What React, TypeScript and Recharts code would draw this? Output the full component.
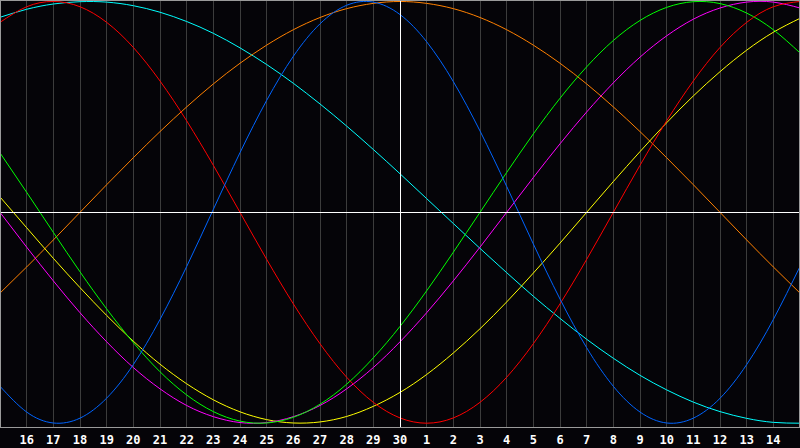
import { LineChart, Line, XAxis, YAxis, CartesianGrid, ReferenceLine } from "recharts";

// day labels: 15th of last month .. 15th of this month, today = 30
const dayLabels = [
  "15", "16", "17", "18", "19", "20", "21", "22", "23", "24", "25", "26", "27", "28", "29", "30",
  "1", "2", "3", "4", "5", "6", "7", "8", "9", "10", "11", "12", "13", "14", "15",
];
const todayIndex = 15;

// values in %, one per day
const physical = [-82.5, -94.7, -99.9, -97.6, -88.1, -72.2, -50.8, -25.7, 1.4, 28.3, 53.1, 74.0, 89.4, 98.2, 99.7, 93.8, 80.9, 62.0, 38.6, 12.3, -15.0, -41.1, -64.2, -82.5, -94.7, -99.9, -97.6, -88.2, -72.2, -50.8, -25.7];
const emotional = [90.1, 97.5, 100, 97.5, 90.1, 78.2, 62.3, 43.4, 22.3, 0, -22.3, -43.4, -62.3, -78.2, -90.1, -97.5, -100, -97.5, -90.1, -78.2, -62.3, -43.4, -22.3, 0, 22.3, 43.4, 62.3, 78.2, 90.1, 97.5, 100];
const intellectual = [28.2, 9.5, -9.5, -28.2, -45.8, -61.8, -75.6, -86.6, -94.5, -99.0, -99.9, -97.2, -91.0, -81.5, -69.0, -54.1, -37.2, -18.9, 0, 18.9, 37.2, 54.1, 69.0, 81.5, 91.0, 97.2, 99.9, 99.0, 94.5, 86.6, 75.6];
const intuitive = [0, -16.5, -32.5, -47.6, -61.4, -73.6, -83.7, -91.6, -96.9, -99.7, -99.7, -96.9, -91.6, -83.7, -73.6, -61.4, -47.6, -32.5, -16.5, 0, 16.5, 32.5, 47.6, 61.4, 73.6, 83.7, 91.6, 96.9, 99.7, 99.7, 96.9];
const aesthetic = [7.3, -7.3, -21.8, -35.7, -48.9, -61.1, -72.0, -81.3, -88.9, -94.6, -98.3, -99.9, -99.4, -96.8, -92.0, -85.4, -76.9, -66.7, -55.2, -42.5, -28.8, -14.6, 0, 14.6, 28.8, 42.5, 55.2, 66.7, 76.9, 85.4, 92.0];
const awareness = [-38.3, -25.9, -13.1, 0, 13.1, 25.9, 38.3, 50.0, 60.9, 70.7, 79.3, 86.6, 92.4, 96.6, 99.1, 100, 99.1, 96.6, 92.4, 86.6, 79.3, 70.7, 60.9, 50.0, 38.3, 25.9, 13.1, 0, -13.1, -25.9, -38.3];
const spiritual = [92.5, 96.3, 98.8, 99.9, 99.7, 98.0, 94.9, 90.5, 84.9, 78.0, 70.1, 61.2, 51.4, 40.9, 29.8, 18.3, 6.5, -5.3, -17.1, -28.6, -39.8, -50.3, -60.2, -69.2, -77.3, -84.2, -90.0, -94.5, -97.7, -99.6, -100.0];

const data = dayLabels.map((label, i) => ({
  i,
  label,
  physical: physical[i],
  emotional: emotional[i],
  intellectual: intellectual[i],
  intuitive: intuitive[i],
  aesthetic: aesthetic[i],
  awareness: awareness[i],
  spiritual: spiritual[i],
}));

const ticks = dayLabels.map((_, i) => i).slice(1, -1);

const series = [
  { key: "spiritual", color: "#00ffff" },
  { key: "awareness", color: "#ff8000" },
  { key: "aesthetic", color: "#ffff00" },
  { key: "intuitive", color: "#ff00ff" },
  { key: "intellectual", color: "#00ff00" },
  { key: "emotional", color: "#ff0000" },
  { key: "physical", color: "#0064ff" },
];

export default function App() {
  return (
    <div style={{ position: "absolute", left: 0, top: 0, width: 800, height: 448, background: "#050408" }}>
      <LineChart width={800} height={448} data={data} margin={{ top: 0, right: 0, bottom: 0, left: 0 }}>
        <CartesianGrid vertical horizontal={false} stroke="#3c3c3c" shapeRendering="crispEdges" />
        <XAxis
          dataKey="i"
          type="number"
          domain={[0, dayLabels.length - 1]}
          allowDataOverflow
          ticks={ticks}
          interval={0}
          height={21}
          axisLine={false}
          tickLine={false}
          tickFormatter={(v: number) => dayLabels[v]}
          tick={{ fill: "#ffffff", fontSize: 12, fontWeight: "bold", fontFamily: "DejaVu Sans Mono" }}
        />
        <YAxis hide type="number" domain={[-101.8, 100.7]} allowDataOverflow />
        {series.map((s) => (
          <Line
            key={s.key}
            type="natural"
            dataKey={s.key}
            stroke={s.color}
            strokeWidth={1}
            dot={false}
            activeDot={false}
            isAnimationActive={false}
          />
        ))}
        <ReferenceLine y={0} stroke="#ffffff" strokeWidth={1} shapeRendering="crispEdges" />
        <ReferenceLine x={todayIndex} stroke="#ffffff" strokeWidth={1} shapeRendering="crispEdges" />
      </LineChart>
      <div
        style={{
          position: "absolute",
          left: 0,
          top: 0,
          width: 800,
          height: 428,
          border: "1px solid #9a9a9a",
          boxSizing: "border-box",
          pointerEvents: "none",
        }}
      />
    </div>
  );
}
